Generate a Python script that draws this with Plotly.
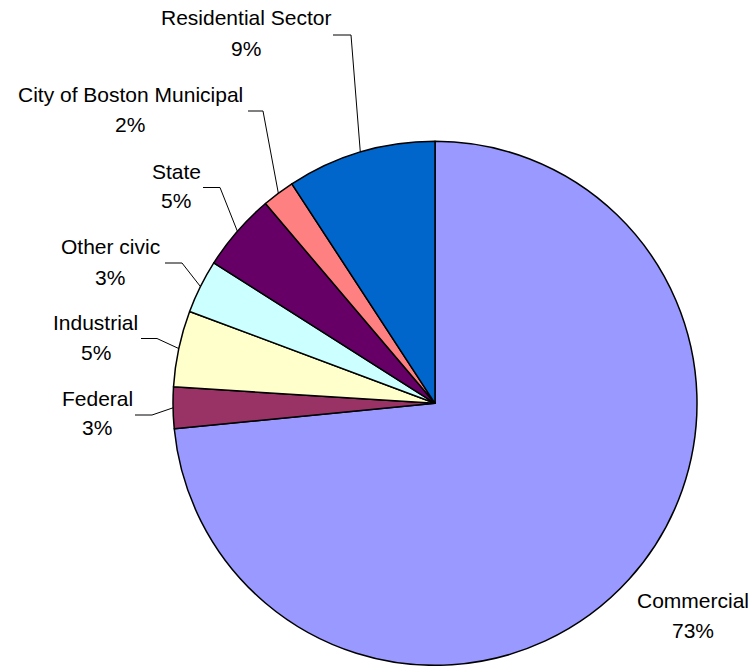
import math
import plotly.graph_objects as go

# ---- data ----
categories = ["Commercial", "Federal", "Industrial", "Other civic", "State",
              "City of Boston Municipal", "Residential Sector"]
shares = [73.45, 2.55, 4.7, 3.3, 4.8, 2.0, 9.2]
colors = ["#9999FF", "#993366", "#FFFFCC", "#CCFFFF", "#660066", "#FF8080", "#0066CC"]

# ---- layout (pixels) ----
W, H = 752, 666
CX, CY, R = 435.0, 403.3, 262.0
FONT = dict(family="Liberation Sans, Arial, sans-serif", size=21, color="#000000")

# label text centre (x, name-line y, percent-line y) and leader elbow (x_start, x_end, y) or None
label_pos = {
    "Commercial": (693, 600, 630, None),
    "Federal": (97, 398, 428, (135, 152, 415)),
    "Industrial": (96, 322, 352, (141, 157, 338.5)),
    "Other civic": (110, 246, 277, (165, 182, 263)),
    "State": (176, 171, 200, (203, 220, 187.5)),
    "City of Boston Municipal": (130, 94.5, 125, (248, 263, 111)),
    "Residential Sector": (246, 17.5, 48, (333, 351, 35)),
}


def px(x):
    return x / W


def py(y):
    return 1 - y / H


fig = go.Figure(go.Pie(
    labels=categories,
    values=shares,
    sort=False,
    direction="clockwise",
    rotation=0,
    textinfo="none",
    hoverinfo="label+percent",
    marker=dict(colors=colors, line=dict(color="#000000", width=1.5)),
    domain=dict(x=[px(CX - R), px(CX + R)], y=[py(CY + R), py(CY - R)]),
    showlegend=False,
))

total = sum(shares)
annotations = []
shapes = []
cum = 0.0
for cat, val in zip(categories, shares):
    mid = (cum + val / 2) / total * 360.0
    cum += val
    ex = CX + R * math.sin(math.radians(mid))
    ey = CY - R * math.cos(math.radians(mid))
    tx, ty1, ty2, elbow = label_pos[cat]
    pct = f"{round(val / total * 100):d}%"
    for txt, ty in ((cat, ty1), (pct, ty2)):
        annotations.append(dict(
            x=px(tx), y=py(ty), xref="paper", yref="paper",
            text=txt, showarrow=False, xanchor="center", yanchor="middle",
            font=FONT,
        ))
    if elbow is not None:
        x0, x1, yl = elbow
        path = f"M {px(x0)},{py(yl)} L {px(x1)},{py(yl)} L {px(ex)},{py(ey)}"
        shapes.append(dict(type="path", xref="paper", yref="paper", path=path,
                           line=dict(color="#000000", width=1)))

fig.update_layout(
    width=W, height=H,
    margin=dict(l=0, r=0, t=0, b=0),
    paper_bgcolor="#FFFFFF",
    plot_bgcolor="#FFFFFF",
    annotations=annotations,
    shapes=shapes,
)

fig.write_html(
    "out.html",
    config={"displayModeBar": False},
    post_script="document.body.style.margin='0';document.body.style.overflow='hidden';",
)
